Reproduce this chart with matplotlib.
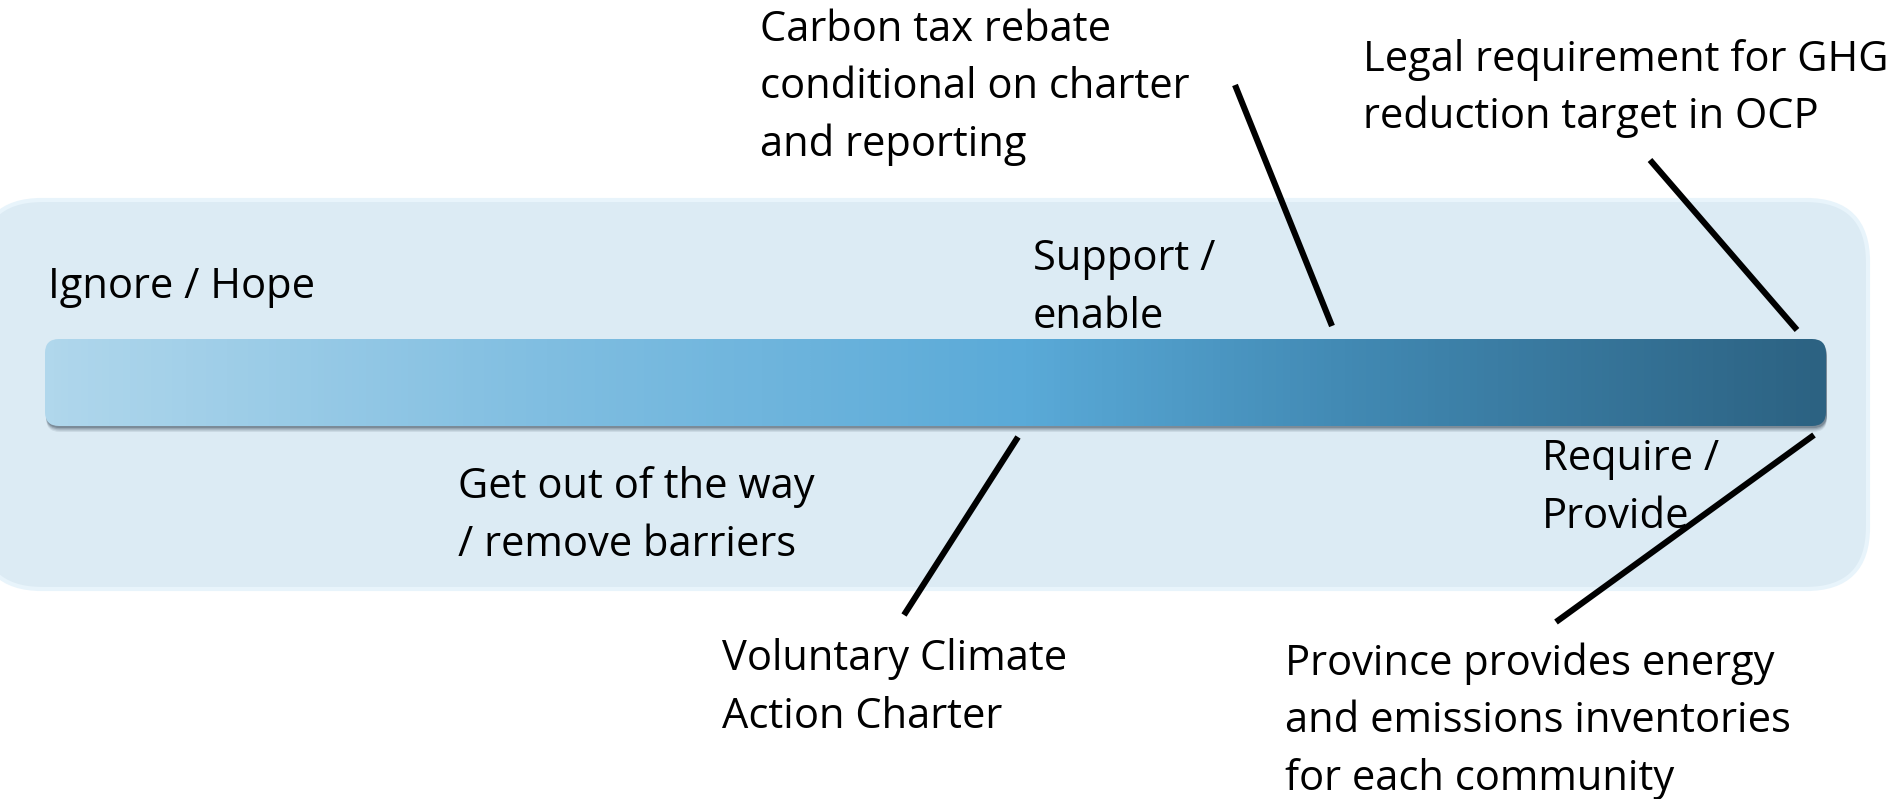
import numpy as np
import matplotlib
matplotlib.use('Agg')
import matplotlib.pyplot as plt
from matplotlib.patches import FancyBboxPatch
from matplotlib.colors import LinearSegmentedColormap

plt.rcParams['font.family'] = ['Open Sans', 'DejaVu Sans']

# ---------------------------------------------------------------------------
# Spectrum gradient (fraction along bar, colour)
grad_pos = [0.0, 0.28, 0.55, 0.73, 1.0]
grad_cols = ['#B0D7EC', '#80BEE1', '#5AAAD8', '#428AB4', '#2C6282']

# Labels: lines of text, left x, first baseline (pixels from top)
labels = [
    (['Ignore / Hope'], 48, 298),
    (['Support /', 'enable'], 1033, 270),
    (['Get out of the way', '/ remove barriers'], 458, 498),
    (['Require /', 'Provide'], 1542, 470),
    (['Carbon tax rebate', 'conditional on charter', 'and reporting'], 760, 41),
    (['Legal requirement for GHG', 'reduction target in OCP'], 1363, 71),
    (['Voluntary Climate', 'Action Charter'], 722, 670),
    (['Province provides energy', 'and emissions inventories', 'for each community'], 1285, 675),
]
line_step = 57.5

# Leader lines (x0, y0, x1, y1)
leaders = [
    (1235, 85, 1332, 326),
    (1650, 160, 1797, 330),
    (1018, 437, 904, 615),
    (1814, 435, 1556, 622),
]

W, H = 1895, 799
fig = plt.figure(figsize=(W / 100, H / 100), dpi=100)
ax = fig.add_axes([0, 0, 1, 1])
ax.set_xlim(0, W)
ax.set_ylim(H, 0)
ax.axis('off')

# background panel
panel = FancyBboxPatch((-20, 200), 1888, 389, boxstyle='round,pad=0,rounding_size=62',
                       facecolor='#DCEBF4', edgecolor='#E8F4FB', linewidth=3, zorder=1)
ax.add_patch(panel)

# bar shadow
bx, by, bw, bh = 45, 339, 1781, 87
for i, a in enumerate([0.10, 0.14, 0.20, 0.28]):
    off = 6 - i * 1.3
    sh = FancyBboxPatch((bx + 1, by + off), bw, bh, boxstyle='round,pad=0,rounding_size=14',
                        facecolor='#304050', edgecolor='none', alpha=a, zorder=2)
    ax.add_patch(sh)

# gradient bar
cmap = LinearSegmentedColormap.from_list('spec', list(zip(grad_pos, grad_cols)))
bar = FancyBboxPatch((bx, by), bw, bh, boxstyle='round,pad=0,rounding_size=14',
                     facecolor='none', edgecolor='none', zorder=3)
ax.add_patch(bar)
img = ax.imshow(np.linspace(0, 1, 512).reshape(1, -1), cmap=cmap, aspect='auto',
                extent=(bx, bx + bw, by + bh, by), zorder=3, interpolation='bilinear')
img.set_clip_path(bar)
ax.set_xlim(0, W)
ax.set_ylim(H, 0)

# leader lines
for x0, y0, x1, y1 in leaders:
    ax.plot([x0, x1], [y0, y1], color='black', lw=4.4, solid_capstyle='butt', zorder=5)

# labels
for lines, x, y in labels:
    for k, s in enumerate(lines):
        ax.text(x, y + k * line_step, s, fontsize=30, color='black',
                ha='left', va='baseline', zorder=4)

fig.savefig('out.png', dpi=100)
